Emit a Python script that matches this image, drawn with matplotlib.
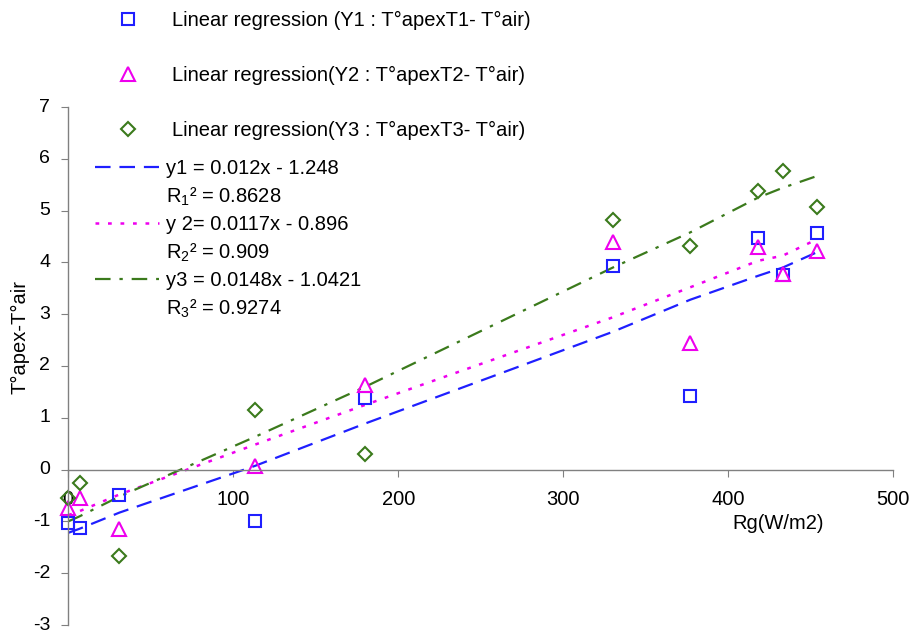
import matplotlib
matplotlib.use("Agg")
import matplotlib.pyplot as plt
from matplotlib.lines import Line2D

# Rayonnement global (W/m2) et écarts de température
rg = [0, 7, 31, 113, 180, 330, 377, 418, 433, 454]
y1_obs = [-1.04, -1.12, -0.50, -1.00, 1.38, 3.93, 1.42, 4.48, 3.75, 4.56]
y2_obs = [-0.74, -0.55, -1.15, 0.06, 1.63, 4.40, 2.44, 4.29, 3.78, 4.22]
y3_obs = [-0.55, -0.26, -1.66, 1.15, 0.31, 4.82, 4.31, 5.37, 5.76, 5.07]

# courbes de tendance
y1_fit = [-1.22, -1.14, -0.83, 0.07, 0.89, 2.66, 3.28, 3.74, 3.90, 4.20]
y2_fit = [-0.88, -0.80, -0.48, 0.48, 1.25, 2.94, 3.52, 4.03, 4.13, 4.45]
y3_fit = [-1.00, -0.90, -0.52, 0.63, 1.60, 3.90, 4.58, 5.25, 5.44, 5.67]

labels_obs = ["Linear regression (Y1 : T°apexT1- T°air)",
              "Linear regression(Y2 : T°apexT2- T°air)",
              "Linear regression(Y3 : T°apexT3- T°air)"]
labels_fit = ["y1 = 0.012x - 1.248", "R$_1$² = 0.8628",
              "y 2= 0.0117x - 0.896", "R$_2$² = 0.909",
              "y3 = 0.0148x - 1.0421", "R$_3$² = 0.9274"]

plt.rcParams["font.family"] = ["Liberation Sans", "DejaVu Sans"]
plt.rcParams["mathtext.fontset"] = "custom"
plt.rcParams["mathtext.rm"] = "Liberation Sans"
plt.rcParams["mathtext.it"] = "Liberation Sans"
plt.rcParams["axes.unicode_minus"] = False

bleu = "#1f1fff"
rose = "#ee00ee"
vert = "#3b7a1c"
gris = "#808080"

fig = plt.figure(figsize=(9.13, 6.34), dpi=100)
ax = fig.add_axes([0.0748, 9 / 634, 0.9036, 518 / 634])

# Courbes de tendance
l1, = ax.plot(rg, y1_fit, color=bleu, lw=1.6, dashes=(7, 4))
l2, = ax.plot(rg, y2_fit, color=rose, lw=1.8, dashes=(1.5, 3.5))
l3, = ax.plot(rg, y3_fit, color=vert, lw=1.6, dashes=(7, 4, 1.5, 4))

# Points mesurés
p1, = ax.plot(rg, y1_obs, ls="none", marker="s", ms=8.5, mfc="none", mec=bleu, mew=1.5, clip_on=False)
p2, = ax.plot(rg, y2_obs, ls="none", marker="^", ms=9.5, mfc="none", mec=rose, mew=1.5, clip_on=False)
p3, = ax.plot(rg, y3_obs, ls="none", marker="D", ms=7, mfc="none", mec=vert, mew=1.5, clip_on=False)

ax.set_xlim(0, 500)
ax.set_ylim(-3, 7)
ax.set_xticks([0, 100, 200, 300, 400, 500])
ax.set_yticks(range(-3, 8))

# Axes à la Excel
ax.spines["top"].set_visible(False)
ax.spines["right"].set_visible(False)
ax.spines["bottom"].set_position(("data", 0))
for s in ["left", "bottom"]:
    ax.spines[s].set_color(gris)
    ax.spines[s].set_linewidth(1.0)
ax.tick_params(axis="both", direction="out", length=5, color=gris, labelsize=14.5)
ax.tick_params(axis="y", labelsize=14)
ax.tick_params(axis="x", pad=10)
ax.tick_params(axis="y", pad=8)
for t in ax.get_yticklabels():
    t.set_verticalalignment("center")

ax.set_ylabel("T°apex-T°air", fontsize=14.5)
ax.yaxis.set_label_coords(-0.047, 0.556)
ax.set_xlabel("Rg(W/m2)", fontsize=14.5)
ax.xaxis.set_label_coords(0.86, 0.215)

# Légende des points
leg1 = fig.legend([p1, p2, p3], labels_obs, loc="upper left",
                  bbox_to_anchor=(118 / 913, 1 - 11 / 634), frameon=False,
                  fontsize=14.5, handlelength=1.0, handletextpad=1.7,
                  labelspacing=1.78, borderpad=0, borderaxespad=0)

# Légende des courbes
vide = Line2D([], [], ls="none")
leg2 = ax.legend([l1, vide, l2, vide, l3, vide], labels_fit, loc="upper left",
                 bbox_to_anchor=(95 / 913, 1 - 159 / 634), bbox_transform=fig.transFigure,
                 frameon=False, fontsize=14.5, handlelength=3.2, handletextpad=0.35,
                 labelspacing=0.37, borderpad=0, borderaxespad=0)

fig.savefig("out.png", dpi=100)
